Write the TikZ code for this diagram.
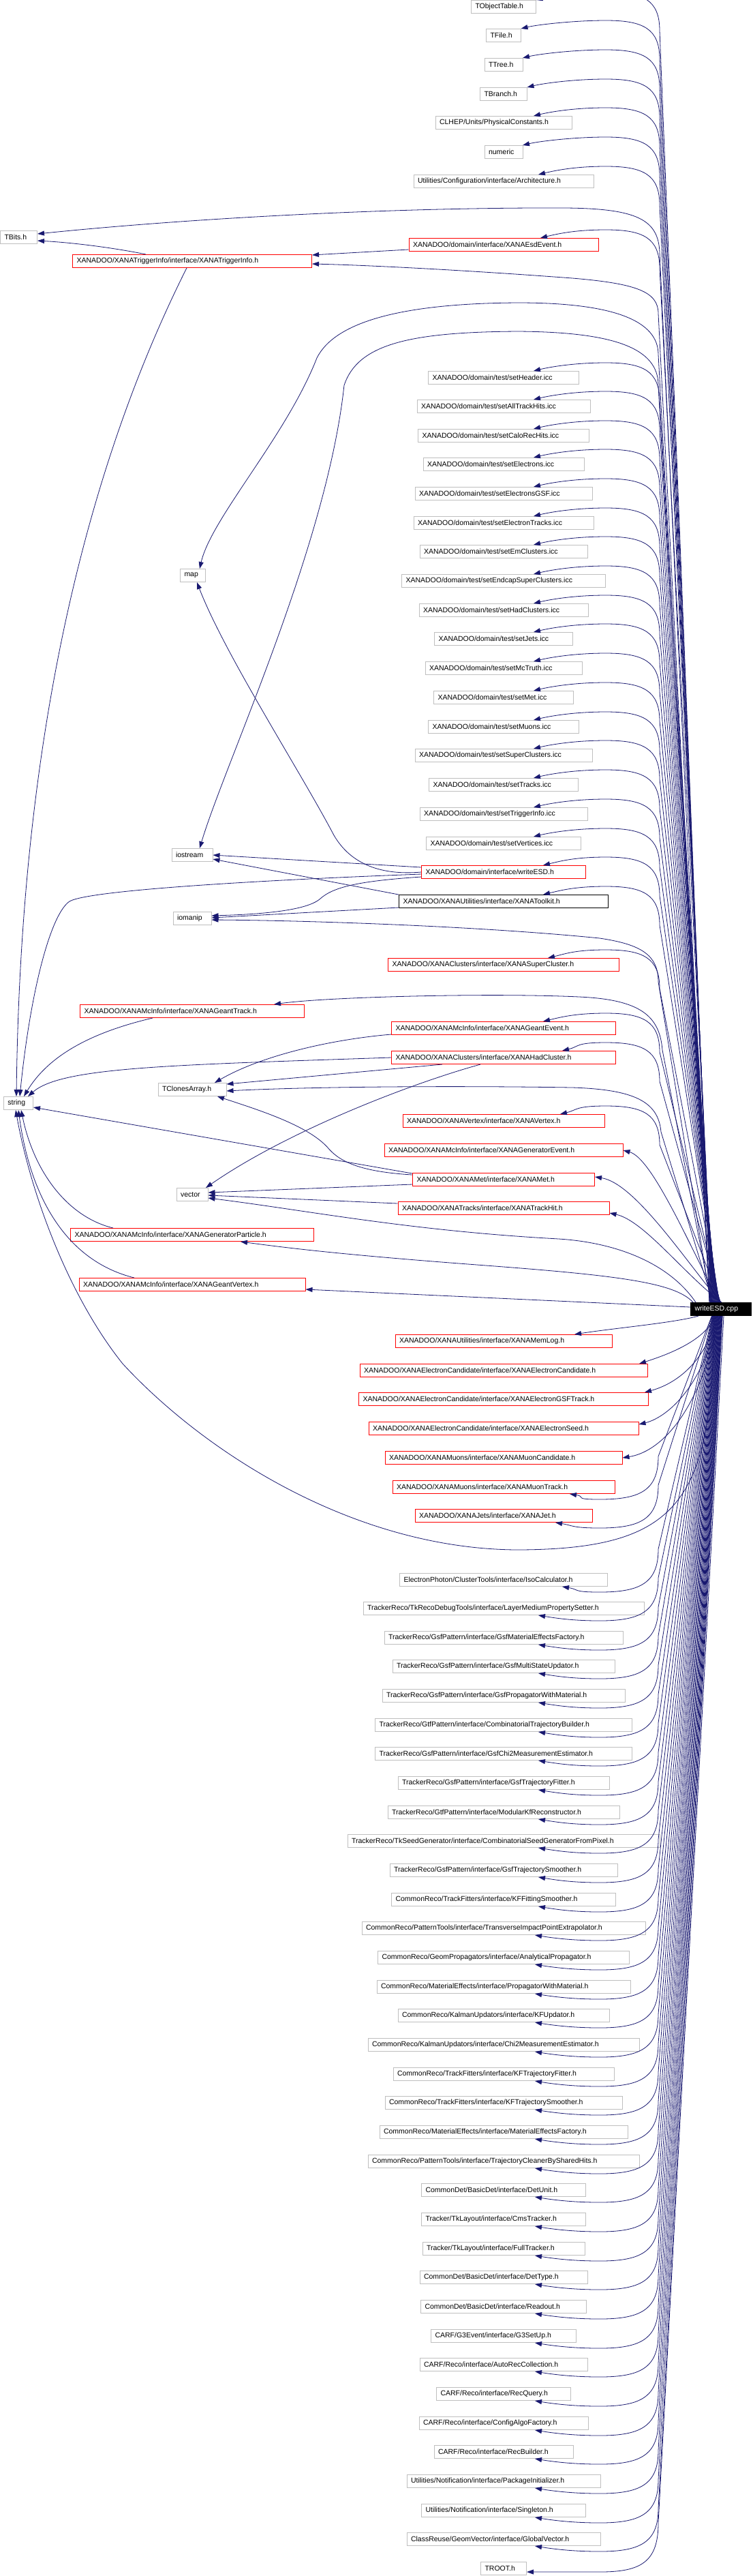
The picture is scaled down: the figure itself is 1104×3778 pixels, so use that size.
\documentclass[tikz,border=0pt]{standalone}
\usepackage{fontspec}
\setmainfont{Liberation Sans}
\usetikzlibrary{arrows.meta,calc}
\definecolor{depblue}{RGB}{25,25,112}
\definecolor{filegray}{RGB}{191,191,191}
\tikzstyle{filebox} = [draw=filegray, line width=1pt, rectangle, minimum height=19pt,
    inner xsep=6pt, inner ysep=0pt, font=\fontsize{10.5}{12}\selectfont]
\tikzstyle{rootbox} = [filebox, draw=black, fill=black, text=white]
\tikzstyle{dep} = [depblue, line width=0.8pt, -{Triangle[length=10pt,width=7pt]}]
\newcommand{\fname}[2]{\makebox[\dimexpr#1pt-12pt\relax][l]{#2}}

\begin{document}
\begin{tikzpicture}[x=1pt, y=-1pt]
\useasboundingbox (0,0) rectangle (1104,3778);

% the file itself
\node[rootbox] (root) at (1058,1920) {\fname{89}{writeESD.cpp}};

% direct includes, right column
\foreach \nm/\yy/\ww/\bc/\lbl in {
  objtable/10/95/filegray/{TObjectTable.h},
  tfile/52/51/filegray/{TFile.h},
  ttree/95/56/filegray/{TTree.h},
  tbranch/138/69/filegray/{TBranch.h},
  clhep/180/200/filegray/{CLHEP/Units/PhysicalConstants.h},
  numeric/223/56/filegray/{numeric},
  arch/266/264/filegray/{Utilities/Configuration/interface/Architecture.h},
  esdevent/359/278/red/{XANADOO/domain/interface/XANAEsdEvent.h},
  setheader/554/221/filegray/{XANADOO/domain/test/setHeader.icc},
  setalltrackhits/596/254/filegray/{XANADOO/domain/test/setAllTrackHits.icc},
  setcalorechits/639/251/filegray/{XANADOO/domain/test/setCaloRecHits.icc},
  setelectrons/681/236/filegray/{XANADOO/domain/test/setElectrons.icc},
  setelectronsgsf/724/260/filegray/{XANADOO/domain/test/setElectronsGSF.icc},
  setelectrontracks/767/264/filegray/{XANADOO/domain/test/setElectronTracks.icc},
  setemclusters/809/246/filegray/{XANADOO/domain/test/setEmClusters.icc},
  setendcap/852/299/filegray/{XANADOO/domain/test/setEndcapSuperClusters.icc},
  sethadclusters/895/248/filegray/{XANADOO/domain/test/setHadClusters.icc},
  setjets/937/203/filegray/{XANADOO/domain/test/setJets.icc},
  setmctruth/980/230/filegray/{XANADOO/domain/test/setMcTruth.icc},
  setmet/1023/205/filegray/{XANADOO/domain/test/setMet.icc},
  setmuons/1066/221/filegray/{XANADOO/domain/test/setMuons.icc},
  setsuperclusters/1108/260/filegray/{XANADOO/domain/test/setSuperClusters.icc},
  settracks/1151/219/filegray/{XANADOO/domain/test/setTracks.icc},
  settriggerinfo/1194/246/filegray/{XANADOO/domain/test/setTriggerInfo.icc},
  setvertices/1237/227/filegray/{XANADOO/domain/test/setVertices.icc},
  wesdh/1279/241/red/{XANADOO/domain/interface/writeESD.h},
  toolkit/1322/307/black/{XANADOO/XANAUtilities/interface/XANAToolkit.h},
  supercluster/1415/339/red/{XANADOO/XANAClusters/interface/XANASuperCluster.h},
  geantevent/1508/329/red/{XANADOO/XANAMcInfo/interface/XANAGeantEvent.h},
  hadcluster/1551/329/red/{XANADOO/XANAClusters/interface/XANAHadCluster.h},
  vertex/1644/296/red/{XANADOO/XANAVertex/interface/XANAVertex.h},
  genevent/1687/350/red/{XANADOO/XANAMcInfo/interface/XANAGeneratorEvent.h},
  xanamet/1730/267/red/{XANADOO/XANAMet/interface/XANAMet.h},
  trackhit/1772/310/red/{XANADOO/XANATracks/interface/XANATrackHit.h},
  memlog/1967/318/red/{XANADOO/XANAUtilities/interface/XANAMemLog.h},
  elcand/2010/422/red/{XANADOO/XANAElectronCandidate/interface/XANAElectronCandidate.h},
  gsftrack/2052/425/red/{XANADOO/XANAElectronCandidate/interface/XANAElectronGSFTrack.h},
  elseed/2095/396/red/{XANADOO/XANAElectronCandidate/interface/XANAElectronSeed.h},
  muoncand/2138/348/red/{XANADOO/XANAMuons/interface/XANAMuonCandidate.h},
  muontrack/2181/326/red/{XANADOO/XANAMuons/interface/XANAMuonTrack.h},
  xanajet/2223/260/red/{XANADOO/XANAJets/interface/XANAJet.h},
  iso/2317/305/filegray/{ElectronPhoton/ClusterTools/interface/IsoCalculator.h},
  layer/2359/412/filegray/{TrackerReco/TkRecoDebugTools/interface/LayerMediumPropertySetter.h},
  gsfmat/2402/350/filegray/{TrackerReco/GsfPattern/interface/GsfMaterialEffectsFactory.h},
  gsfmulti/2444/326/filegray/{TrackerReco/GsfPattern/interface/GsfMultiStateUpdator.h},
  gsfprop/2487/356/filegray/{TrackerReco/GsfPattern/interface/GsfPropagatorWithMaterial.h},
  combtraj/2530/377/filegray/{TrackerReco/GtfPattern/interface/CombinatorialTrajectoryBuilder.h},
  gsfchi2/2572/377/filegray/{TrackerReco/GsfPattern/interface/GsfChi2MeasurementEstimator.h},
  gsffitter/2615/310/filegray/{TrackerReco/GsfPattern/interface/GsfTrajectoryFitter.h},
  modkf/2658/340/filegray/{TrackerReco/GtfPattern/interface/ModularKfReconstructor.h},
  combseed/2700/458/filegray/{TrackerReco/TkSeedGenerator/interface/CombinatorialSeedGeneratorFromPixel.h},
  gsfsmoother/2743/334/filegray/{TrackerReco/GsfPattern/interface/GsfTrajectorySmoother.h},
  kffitsmoother/2786/329/filegray/{CommonReco/TrackFitters/interface/KFFittingSmoother.h},
  tipextrap/2828/416/filegray/{CommonReco/PatternTools/interface/TransverseImpactPointExtrapolator.h},
  analytical/2871/369/filegray/{CommonReco/GeomPropagators/interface/AnalyticalPropagator.h},
  propmat/2914/372/filegray/{CommonReco/MaterialEffects/interface/PropagatorWithMaterial.h},
  kfupdator/2956/310/filegray/{CommonReco/KalmanUpdators/interface/KFUpdator.h},
  chi2/2999/398/filegray/{CommonReco/KalmanUpdators/interface/Chi2MeasurementEstimator.h},
  kftrajfitter/3042/324/filegray/{CommonReco/TrackFitters/interface/KFTrajectoryFitter.h},
  kftrajsmoother/3084/348/filegray/{CommonReco/TrackFitters/interface/KFTrajectorySmoother.h},
  mateffects/3127/364/filegray/{CommonReco/MaterialEffects/interface/MaterialEffectsFactory.h},
  trajcleaner/3170/398/filegray/{CommonReco/PatternTools/interface/TrajectoryCleanerBySharedHits.h},
  detunit/3212/241/filegray/{CommonDet/BasicDet/interface/DetUnit.h},
  cmstracker/3255/241/filegray/{Tracker/TkLayout/interface/CmsTracker.h},
  fulltracker/3298/238/filegray/{Tracker/TkLayout/interface/FullTracker.h},
  dettype/3340/246/filegray/{CommonDet/BasicDet/interface/DetType.h},
  readout/3383/243/filegray/{CommonDet/BasicDet/interface/Readout.h},
  g3setup/3426/213/filegray/{CARF/G3Event/interface/G3SetUp.h},
  autorec/3468/246/filegray/{CARF/Reco/interface/AutoRecCollection.h},
  recquery/3511/197/filegray/{CARF/Reco/interface/RecQuery.h},
  configalgo/3554/248/filegray/{CARF/Reco/interface/ConfigAlgoFactory.h},
  recbuilder/3596/204/filegray/{CARF/Reco/interface/RecBuilder.h},
  packageinit/3639/284/filegray/{Utilities/Notification/interface/PackageInitializer.h},
  singleton/3682/241/filegray/{Utilities/Notification/interface/Singleton.h},
  globalvector/3724/284/filegray/{ClassReuse/GeomVector/interface/GlobalVector.h},
  troot/3767/67/filegray/{TROOT.h}}
{
  \node[filebox, draw=\bc] (\nm) at (739,\yy) {\fname{\ww}{\lbl}};
}

% indirect includes, left column
\node[filebox] (tbits) at (27.5,348) {\fname{54}{TBits.h}};
\node[filebox, draw=red] (trigger) at (282,383) {\fname{351}{XANADOO/XANATriggerInfo/interface/XANATriggerInfo.h}};
\node[filebox] (map) at (283,844) {\fname{37}{map}};
\node[filebox] (iostream) at (282,1254) {\fname{60}{iostream}};
\node[filebox] (iomanip) at (282,1347) {\fname{56}{iomanip}};
\node[filebox, draw=red] (geanttrack) at (282,1483) {\fname{329}{XANADOO/XANAMcInfo/interface/XANAGeantTrack.h}};
\node[filebox] (tclones) at (282,1598) {\fname{100}{TClonesArray.h}};
\node[filebox] (string) at (27,1618) {\fname{43}{string}};
\node[filebox] (vector) at (282,1752) {\fname{46}{vector}};
\node[filebox, draw=red] (genparticle) at (282,1811) {\fname{357}{XANADOO/XANAMcInfo/interface/XANAGeneratorParticle.h}};
\node[filebox, draw=red] (geantvertex) at (282,1884) {\fname{332}{XANADOO/XANAMcInfo/interface/XANAGeantVertex.h}};

% root -> right column, upper half
\foreach \nm/\dd [count=\i] in {objtable/47.5, tfile/25.5, ttree/28, tbranch/34.5, clhep/44,
  numeric/28, arch/51, esdevent/54, setheader/44, setalltrackhits/44, setcalorechits/44,
  setelectrons/44, setelectronsgsf/44, setelectrontracks/44, setemclusters/44, setendcap/44,
  sethadclusters/44, setjets/44, setmctruth/44, setmet/44, setmuons/44, setsuperclusters/44,
  settracks/44, settriggerinfo/44, setvertices/44, wesdh/58, toolkit/58, supercluster/65,
  geantevent/58, hadcluster/86, vertex/83}
{
  \draw[dep] ([xshift={\i*0.5-16}]root.north) -- ($(\nm.north)+(229,45)$)
    .. controls ($(\nm.north)+(229,0)$) and ($(\nm.north)+(205,-12)$) .. ($(\nm.north)+(150,-12)$)
    .. controls ($(\nm.north)+(105,-12)$) and ($(\nm.north)+(\dd+25,-6)$) .. ([xshift=\dd pt]\nm.north);
}

% root -> right column, lower half
\foreach \nm/\dd [count=\i] in {muontrack/97, xanajet/76, iso/86, layer/51, gsfmat/51,
  gsfmulti/51, gsfprop/51, combtraj/51, gsfchi2/51, gsffitter/51, modkf/51, combseed/51,
  gsfsmoother/51, kffitsmoother/51, tipextrap/46, analytical/46, propmat/46, kfupdator/46,
  chi2/46, kftrajfitter/46, kftrajsmoother/46, mateffects/46, trajcleaner/46, detunit/46,
  cmstracker/46, fulltracker/46, dettype/46, readout/46, g3setup/46, autorec/46, recquery/46,
  configalgo/46, recbuilder/46, packageinit/46, singleton/46, globalvector/46}
{
  \draw[dep] ([xshift={\i*0.45-14}]root.south) -- ($(\nm.south)+(227,-55)$)
    .. controls ($(\nm.south)+(227,-5)$) and ($(\nm.south)+(200,8)$) .. ($(\nm.south)+(141,8)$)
    .. controls ($(\nm.south)+(100,8)$) and ($(\nm.south)+(\dd+25,4)$) .. ([xshift=\dd pt]\nm.south);
}

% root -> files right beside it
\draw[dep] ([xshift=-3pt]root.north) .. controls (1005,1810) and (955,1698) .. (genevent.east);
\draw[dep] ([xshift=-1pt]root.north) .. controls (1000,1840) and (930,1735) .. ([yshift=4pt]xanamet.east);
\draw[dep] ([xshift=1pt]root.north) .. controls (1005,1870) and (945,1790) .. ([yshift=-7pt]trackhit.east);
\draw[dep] ([xshift=12pt]root.south west) .. controls (990,1940) and (900,1948) .. ([xshift=104pt]memlog.north);
\draw[dep] ([xshift=-8pt]root.south) .. controls (1035,1965) and (985,1985) .. ([xshift=199pt]elcand.north);
\draw[dep] ([xshift=-6pt]root.south) .. controls (1035,2000) and (990,2030) .. ([xshift=-6pt]gsftrack.north east);
\draw[dep] ([xshift=-4pt]root.south) .. controls (1030,2040) and (975,2080) .. ([yshift=6pt]elseed.east);
\draw[dep] ([xshift=-2pt]root.south) .. controls (1025,2080) and (965,2130) .. (muoncand.east);
\draw[dep] ([xshift=4pt]root.south) -- (966,3700) .. controls (966,3758) and (940,3772) .. (880,3772) -- ([yshift=-5pt]troot.east);

% root -> left column
\draw[dep] ([xshift=-17pt]root.north) -- (968,370) .. controls (966,322) and (935,306) .. (830,305)
  .. controls (600,304) and (300,318) .. ([yshift=5pt]tbits.east);
\draw[dep] ([xshift=-17pt]root.north) -- (966,460) .. controls (966,428) and (935,416) .. (840,408)
  .. controls (680,396) and (540,389) .. ([yshift=-4pt]trigger.east);
\draw[dep] ([xshift=-16pt]root.north) -- (966,520) .. controls (966,470) and (900,444) .. (760,444)
  .. controls (580,445) and (490,475) .. (465,525) .. controls (420,640) and (310,760) .. ([xshift=10pt]map.north);
\draw[dep] ([xshift=-16pt]root.north) -- (966,565) .. controls (966,510) and (900,487) .. (760,486)
  .. controls (600,487) and (525,505) .. (505,565) .. controls (480,800) and (330,1120) .. ([xshift=11pt]iostream.north);
\draw[dep] ([xshift=-15pt]root.north) -- (966,1440) .. controls (966,1400) and (940,1385) .. (880,1376)
  .. controls (700,1358) and (450,1350) .. ([yshift=-2pt]iomanip.east);
\draw[dep] ([xshift=-14pt]root.north) -- (972,1540) .. controls (968,1490) and (940,1466) .. (850,1462)
  .. controls (720,1456) and (480,1462) .. ([xshift=120pt]geanttrack.north);
\draw[dep] ([xshift=-12pt]root.north) -- (970,1660) .. controls (966,1615) and (930,1598) .. (840,1595)
  .. controls (650,1592) and (450,1594) .. ([yshift=-2pt]tclones.east);
\draw[dep] ([xshift=8pt]root.north west) .. controls (980,1850) and (900,1822) .. (820,1817)
  .. controls (600,1805) and (450,1775) .. ([yshift=-5pt]vector.east);
\draw[dep] ([xshift=4pt]root.north west) .. controls (990,1880) and (900,1870) .. (700,1855)
  .. controls (500,1840) and (420,1830) .. ([xshift=71pt]genparticle.south);
\draw[dep] ([yshift=3pt]root.west) -- ([yshift=-7pt]geantvertex.east);
\draw[dep] ([xshift=-10pt]root.south) .. controls (1045,2200) and (1000,2272) .. (760,2273)
  .. controls (520,2272) and (300,2130) .. (180,2000) .. controls (100,1900) and (45,1750) .. ([xshift=-4pt]string.south);

% includes between the headers
\draw[dep] ([yshift=-7pt]esdevent.west) -- ([yshift=9pt]trigger.east);
\draw[dep] ([xshift=-68pt]trigger.north) .. controls (170,364) and (110,356) .. ([yshift=-5pt]tbits.east);
\draw[dep] ([xshift=-8pt]trigger.south) .. controls (120,700) and (30,1100) .. ([xshift=-3pt]string.north);
\draw[dep] ([yshift=7pt]wesdh.west) -- (iostream.east);
\draw[dep] (wesdh.west) .. controls (560,1284) and (515,1268) .. (490,1225)
  .. controls (440,1130) and (330,960) .. ([xshift=6pt]map.south);
\draw[dep] ([yshift=-3pt]wesdh.west) .. controls (400,1290) and (130,1305) .. (102,1322)
  .. controls (75,1340) and (45,1450) .. ([xshift=2pt]string.north);
\draw[dep] ([yshift=-7pt]wesdh.west) .. controls (530,1292) and (490,1300) .. (470,1318)
  .. controls (450,1336) and (380,1341) .. ([yshift=4pt]iomanip.east);
\draw[dep] (toolkit.north west) -- ([yshift=-6pt]iostream.east);
\draw[dep] ([yshift=-9pt]toolkit.west) -- ([yshift=1pt]iomanip.east);
\draw[dep] ([xshift=-58pt]geanttrack.south) .. controls (130,1515) and (70,1550) .. ([xshift=8pt]string.north);
\draw[dep] ([yshift=-9pt]geantevent.west) .. controls (480,1525) and (380,1550) .. ([xshift=33pt]tclones.north);
\draw[dep] (hadcluster.west) .. controls (250,1562) and (90,1565) .. ([xshift=14pt]string.north);
\draw[dep] ([xshift=-90pt]hadcluster.south) -- ([yshift=8pt]tclones.east);
\draw[dep] ([xshift=-34pt]hadcluster.south) .. controls (600,1590) and (420,1660) .. ([xshift=20pt]vector.north);
\draw[dep] ([yshift=7pt]xanamet.west) .. controls (520,1718) and (495,1700) .. (480,1682)
  .. controls (450,1650) and (380,1628) .. ([xshift=37pt]tclones.south);
\draw[dep] ([yshift=9pt]xanamet.west) -- ([yshift=-6pt]string.east);
\draw[dep] ([yshift=-7pt]xanamet.west) -- ([yshift=3pt]vector.east);
\draw[dep] ([yshift=7pt]trackhit.west) -- ([yshift=-1pt]vector.east);
\draw[dep] ([xshift=-116pt]genparticle.north) .. controls (100,1785) and (50,1720) .. ([xshift=4pt]string.south);
\draw[dep] ([xshift=-85pt]geantvertex.north) .. controls (100,1850) and (45,1760) .. (string.south);
\end{tikzpicture}
\end{document}
